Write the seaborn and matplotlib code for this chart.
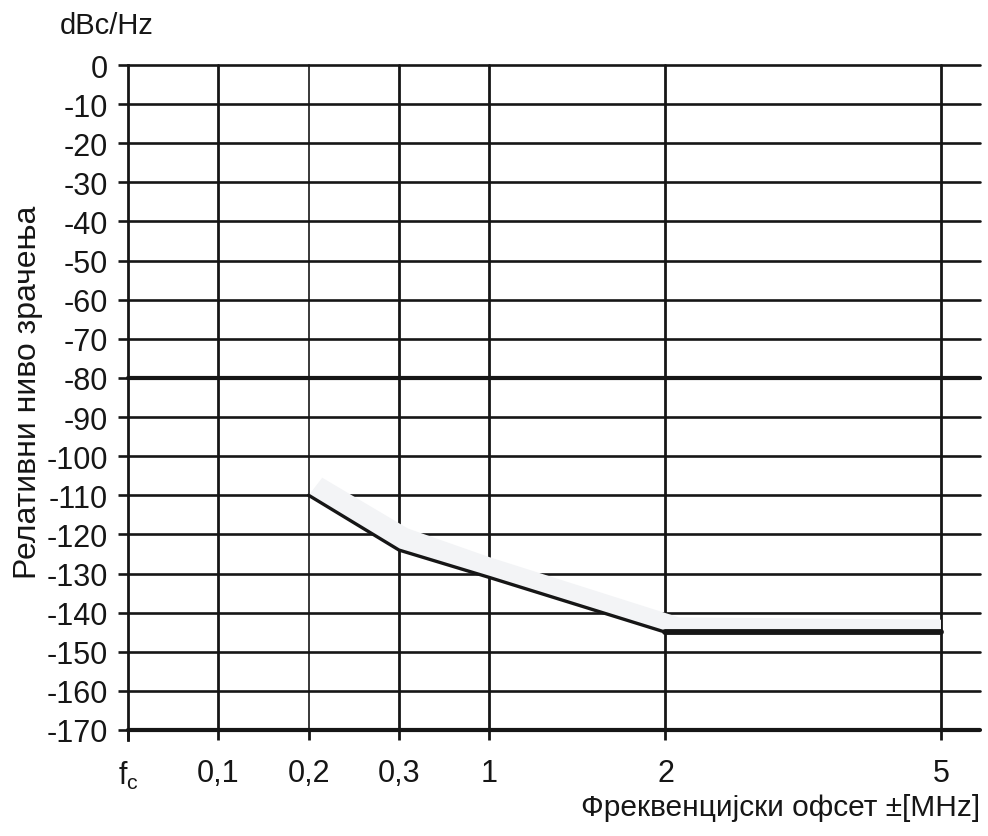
import matplotlib
matplotlib.use("Agg")
import matplotlib.pyplot as plt
import seaborn as sns
import pandas as pd

# x axis is not to scale: each label sits on its own grid position
freq_labels = ["$\\mathregular{f_c}$", "0,1", "0,2", "0,3", "1", "2", "5"]
freq_pos = [0, 1, 2, 3, 4, 5.95, 9]

# mask line (dBc/Hz) at offsets 0,2 / 0,3 / 1 / 2 / 5 MHz
mask_freq = ["0,2", "0,3", "1", "2", "5"]
mask_level = [-110, -124, -131, -145, -145]

# light shaded band above the mask, upper edge (grid units, dBc/Hz)
band_pos = [2.15, 3.1, 4.0, 6.1, 9.0]
band_top = [-105.5, -118.5, -125.8, -141.2, -141.8]

y_ticks = list(range(0, -171, -10))

sns.set_theme(style="white")
plt.rcParams["font.family"] = ["Liberation Sans", "DejaVu Sans"]

ink = "#161616"
pos_of = dict(zip(["fc", "0,1", "0,2", "0,3", "1", "2", "5"], freq_pos))
df = pd.DataFrame({"pos": [pos_of[f] for f in mask_freq], "level": mask_level})

fig = plt.figure(figsize=(9.88, 8.37), dpi=100)
ax = fig.add_axes([128 / 988, 1 - 731 / 837, (980 - 128) / 988, (731 - 66) / 837])

# grid
for y in y_ticks:
    lw = 3.0 if y in (-80, -170) else 1.9
    ax.axhline(y, color=ink, lw=lw, zorder=1, clip_on=False)
for x in freq_pos[1:]:
    lw = 1.2 if x == 2 else 2.0
    ax.axvline(x, color=ink, lw=lw, zorder=1, clip_on=False)

# shaded band: upper edge then the mask back
poly_x = [df["pos"].iloc[0]] + band_pos + df["pos"].tolist()[::-1]
poly_y = [df["level"].iloc[0]] + band_top + df["level"].tolist()[::-1]
ax.fill(poly_x, poly_y, color="#f3f4f6", lw=0, zorder=2)

sns.lineplot(data=df, x="pos", y="level", sort=False, color=ink, lw=2.4,
             ax=ax, zorder=3)
flat = df[df["pos"] >= 5.9]
sns.lineplot(data=flat, x="pos", y="level", sort=False, color=ink, lw=4.2,
             ax=ax, zorder=3)

ax.set_xlim(0, (980 - 128) / ((941 - 128) / 9))
ax.set_ylim(-170, 0)
ax.set_xticks(freq_pos)
ax.set_xticklabels(freq_labels)
ax.set_yticks(y_ticks)
ax.set_yticklabels([str(v) for v in y_ticks])

for s in ["top", "right", "bottom"]:
    ax.spines[s].set_visible(False)
ax.spines["left"].set_color(ink)
ax.spines["left"].set_linewidth(2.0)
ax.spines["left"].set_bounds(-172.5, 0)

ax.tick_params(axis="y", length=7.5, width=1.9, color=ink, pad=7,
               labelsize=22, labelcolor=ink, left=True)
ax.tick_params(axis="x", length=7.5, width=2.0, color=ink, pad=13,
               labelsize=22, labelcolor=ink, bottom=True)

ax.set_xlabel("")
ax.set_ylabel("")
fig.text(28 / 988, 1 - 392 / 837, "Релативни ниво зрачења", rotation=90,
         ha="center", va="center", fontsize=23, color=ink)
fig.text(60 / 988, 1 - 26 / 837, "dBc/Hz", ha="left", va="center",
         fontsize=21, color=ink)
fig.text(980 / 988, 1 - 808 / 837, "Фреквенцијски офсет ±[MHz]", ha="right",
         va="center", fontsize=21.5, color=ink)

fig.savefig("out.png", dpi=100)
